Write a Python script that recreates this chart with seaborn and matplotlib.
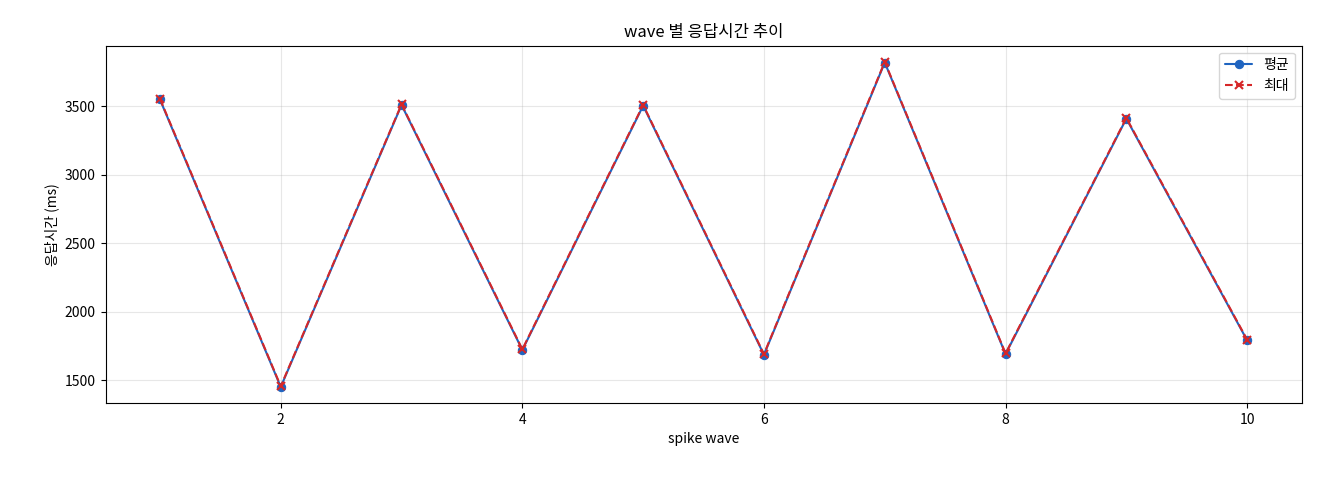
import matplotlib
matplotlib.use("Agg")
import matplotlib.pyplot as plt
import seaborn as sns
import pandas as pd

waves = [1, 2, 3, 4, 5, 6, 7, 8, 9, 10]
avg_ms = [3550, 1450, 3510, 1720, 3505, 1685, 3820, 1690, 3410, 1790]
max_ms = [3555, 1455, 3515, 1725, 3510, 1690, 3825, 1695, 3415, 1795]

sns.set_style("ticks")
plt.rcParams['font.family'] = ['Noto Sans CJK KR', 'DejaVu Sans']
plt.rcParams['axes.unicode_minus'] = False
plt.rcParams['text.color'] = 'black'
plt.rcParams['xtick.color'] = 'black'
plt.rcParams['ytick.color'] = 'black'
plt.rcParams['axes.labelcolor'] = 'black'

df = pd.DataFrame({"wave": waves, "avg": avg_ms, "max": max_ms})

fig, ax = plt.subplots(figsize=(13.2, 4.8), dpi=100)
fig.subplots_adjust(left=0.08, right=0.986, top=0.905, bottom=0.16)
sns.lineplot(data=df, x="wave", y="avg", ax=ax, color="#1f64c0", marker="o",
             markersize=6, markeredgecolor="#1f64c0", markerfacecolor="#1f64c0",
             linewidth=1.5)
sns.lineplot(data=df, x="wave", y="max", ax=ax, color="#d62728", marker="x",
             markersize=6, markeredgecolor="#d62728", markeredgewidth=1.5,
             linewidth=1.5, dashes=False)
lines = ax.get_lines()
lines[1].set_linestyle("--")
ax.grid(True, color="#b0b0b0", alpha=0.3, linewidth=0.8)
for s in ax.spines.values():
    s.set_visible(True)
    s.set_color("black")
    s.set_linewidth(0.8)
ax.set_title("wave 별 응답시간 추이", fontsize=12)
ax.set_xlabel("spike wave", fontsize=10)
ax.set_ylabel("응답시간 (ms)", fontsize=10)
ax.legend(lines[:2], ["평균", "최대"], loc="upper right", fontsize=10)
fig.savefig("out.png", dpi=100)
